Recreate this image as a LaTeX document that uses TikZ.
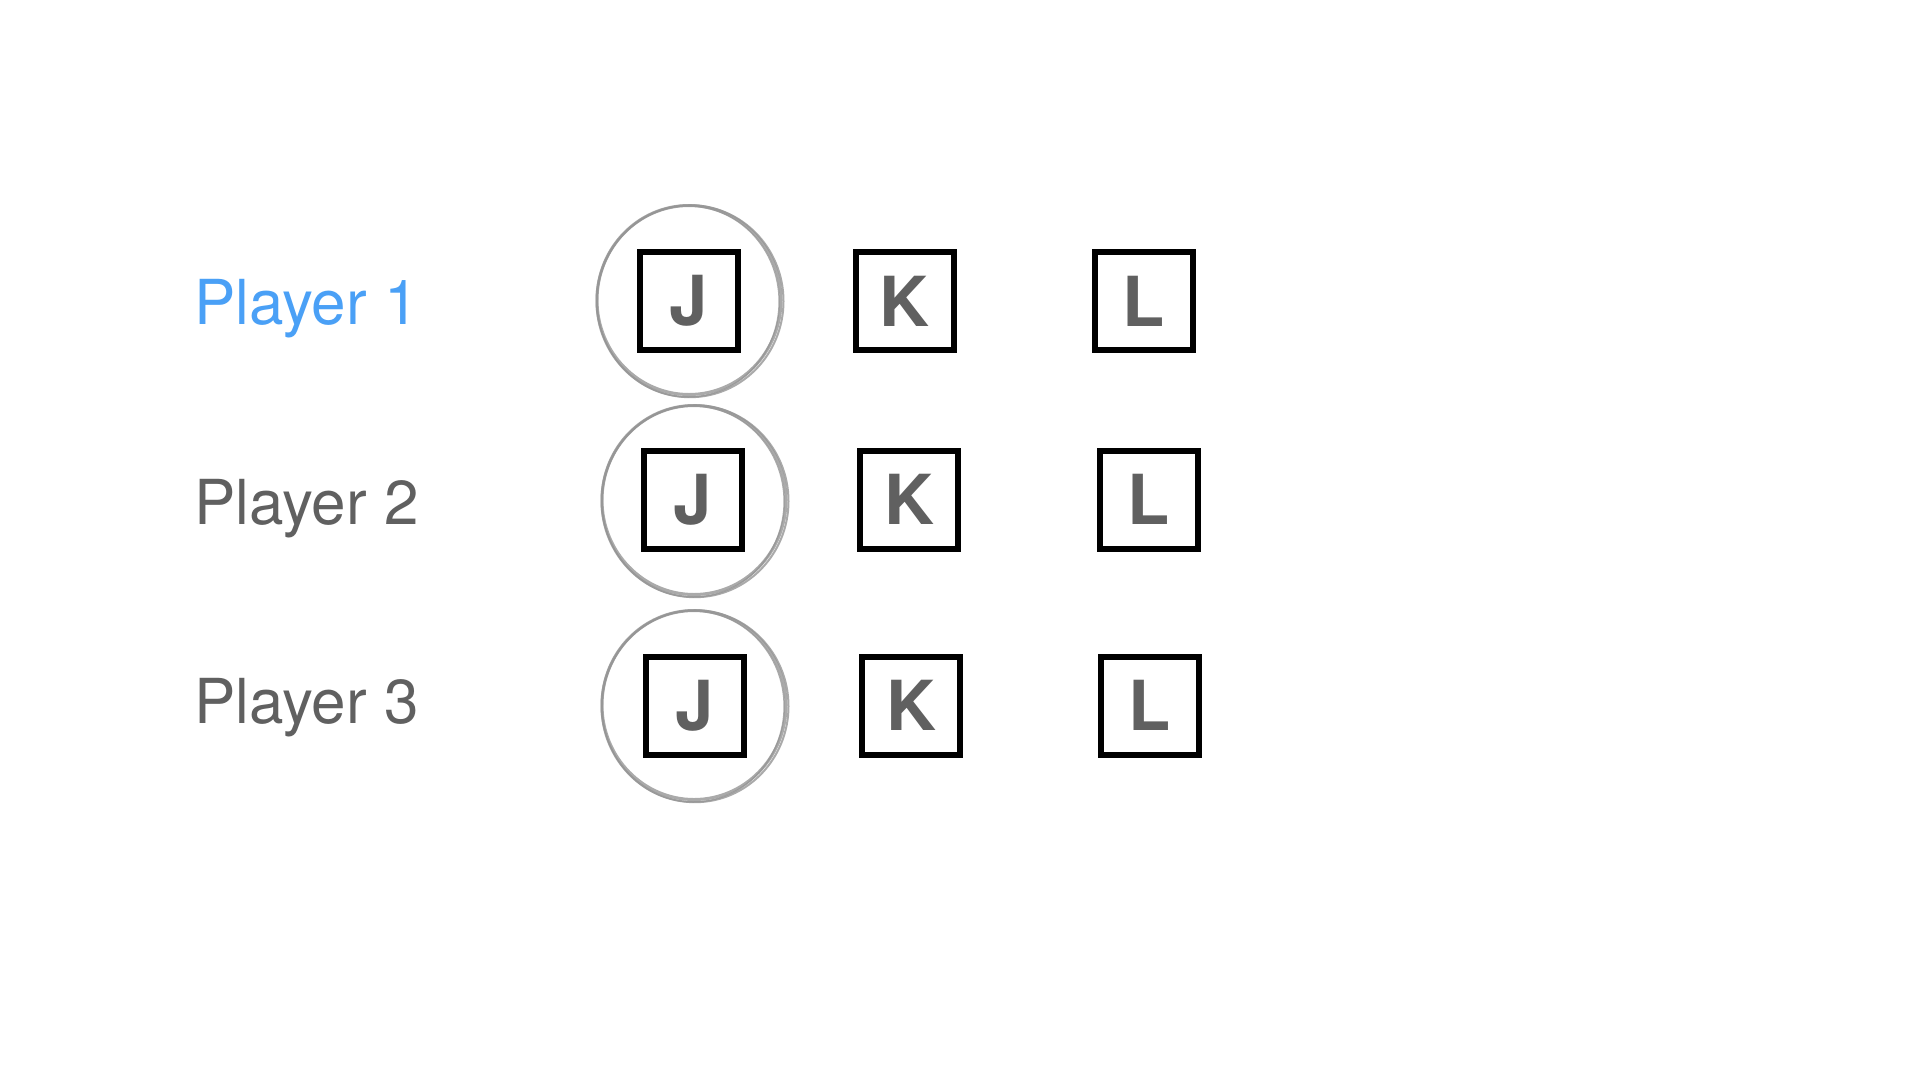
\documentclass[tikz,border=0pt]{standalone}
\usepackage{fontspec}
\setmainfont{TeX Gyre Heros}
\definecolor{pblue}{HTML}{4AA0F6}
\definecolor{pgray}{HTML}{606060}
\definecolor{ringgray}{HTML}{959595}
\begin{document}
\begin{tikzpicture}[x=1pt,y=-1pt,
  label/.style={anchor=base west,inner sep=0pt,font=\fontsize{62}{70}\selectfont},
  card/.style={draw=black,line width=6pt,minimum width=98pt,minimum height=98pt,inner sep=0pt,
    text=pgray,font=\fontsize{69}{70}\selectfont\bfseries},
  ring/.style={draw=ringgray,line width=3pt,opacity=0.8}]
\fill[white] (0,0) rectangle (1920,1080);
\useasboundingbox (0,0) rectangle (1920,1080);
% player labels
\node[label,text=pblue] (p1) at (194,324) {Player 1};
\node[label,text=pgray] (p2) at (194,524) {Player 2};
\node[label,text=pgray] (p3) at (194,723) {Player 3};
% cards
\node[card] (j1) at (689,301) {J};
\node[card] (k1) at (904.5,301) {K};
\node[card] (l1) at (1144,301) {L};
\node[card] (j2) at (692.5,499.5) {J};
\node[card] (k2) at (909,499.5) {K};
\node[card] (l2) at (1149,499.5) {L};
\node[card] (j3) at (695,705.5) {J};
\node[card] (k3) at (911,705.5) {K};
\node[card] (l3) at (1150,705.5) {L};
% hand-drawn style rings
\foreach \cx/\cy in {689/300, 694/500, 694/705}{
  \draw[ring] (\cx,\cy) ellipse [x radius=92,y radius=94.5];
  \draw[ring,line width=2pt] (\cx+1,\cy+1.2) ellipse [x radius=93.5,y radius=96];
  \draw[ring,line width=1.5pt] (\cx-0.8,\cy+1.5) ellipse [x radius=91,y radius=95.5];
}
\end{tikzpicture}
\end{document}
